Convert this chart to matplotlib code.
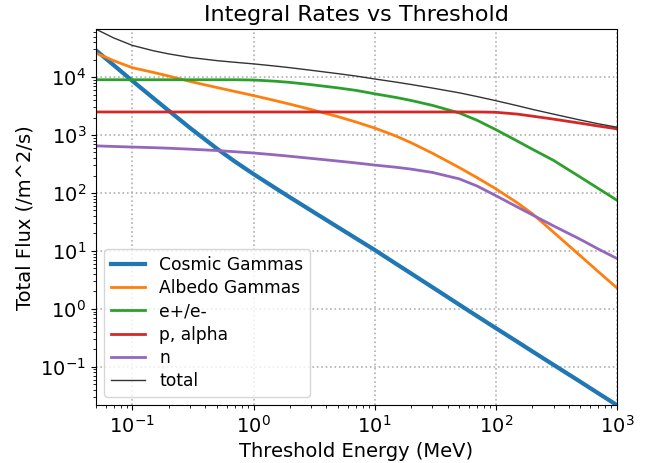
import numpy as np
import matplotlib
matplotlib.use("Agg")
import matplotlib.pyplot as plt

# Threshold energies [MeV]
energy = np.array([0.05, 0.07, 0.1, 0.15, 0.2, 0.3, 0.5, 0.7, 1, 1.5, 2, 3, 5, 7,
                   10, 15, 20, 30, 50, 70, 100, 150, 200, 300, 500, 700, 1000])

# Integral fluxes [/m^2/s]
cosmic_gammas = np.array([2.9e4, 1.61e4, 8.6e3, 4.28e3, 2.62e3, 1.32e3, 580, 350, 212, 123,
                          84, 49.5, 25.5, 16.5, 10.4, 6.0, 4.08, 2.36, 1.18, 0.75,
                          0.465, 0.272, 0.185, 0.108, 0.055, 0.035, 0.0218])
albedo_gammas = np.array([2.6e4, 1.92e4, 1.45e4, 1.2e4, 1.04e4, 8.4e3, 6.6e3, 5.65e3, 4.8e3, 3.94e3,
                          3.41e3, 2.75e3, 2.07e3, 1.68e3, 1.32e3, 960, 736, 485, 274, 184,
                          118, 68, 44, 21, 8.2, 4.4, 2.3])
electrons = np.array([9.0e3, 9.0e3, 9.0e3, 9.0e3, 9.0e3, 9.0e3, 9.0e3, 9.0e3, 8.9e3, 8.5e3,
                      8.1e3, 7.4e3, 6.5e3, 5.9e3, 5.15e3, 4.45e3, 3.95e3, 3.25e3, 2.4e3, 1.8e3,
                      1.24e3, 790, 570, 365, 187, 120, 75])
protons = np.array([2.5e3] * 20 + [2.47e3, 2.3e3, 2.12e3, 1.88e3, 1.6e3, 1.43e3, 1.28e3])
neutrons = np.array([650, 635, 620, 605, 592, 570, 540, 515, 490, 455,
                     430, 395, 355, 330, 303, 278, 258, 226, 175, 132,
                     90, 57.5, 42, 27, 15.8, 10.8, 7.4])
total = cosmic_gammas + albedo_gammas + electrons + protons + neutrons

fig = plt.figure(figsize=(6.57, 4.63), dpi=100)
ax = fig.add_axes([0.146, 0.125, 0.793, 0.812])

ax.loglog(energy, cosmic_gammas, lw=3, color="C0", label="Cosmic Gammas")
ax.loglog(energy, albedo_gammas, lw=2, color="C1", label="Albedo Gammas")
ax.loglog(energy, electrons, lw=2, color="C2", label="e+/e-")
ax.loglog(energy, protons, lw=2, color="C3", label="p, alpha")
ax.loglog(energy, neutrons, lw=2, color="C4", label="n")
ax.loglog(energy, total, lw=1, color="#333333", label="total")

ax.set_xlim(energy[0], energy[-1])
ax.set_ylim(cosmic_gammas.min(), total.max())
ax.grid(True, which="major", ls=":", color="#b0b0b0", lw=1.2)

ax.set_title("Integral Rates vs Threshold", fontsize=16)
ax.set_xlabel("Threshold Energy (MeV)", fontsize=14)
ax.set_ylabel("Total Flux (/m^2/s)", fontsize=14)
ax.tick_params(labelsize=14)
ax.legend(loc="lower left", fontsize=12.3, labelspacing=0.3)

fig.savefig("out.png", dpi=100)
